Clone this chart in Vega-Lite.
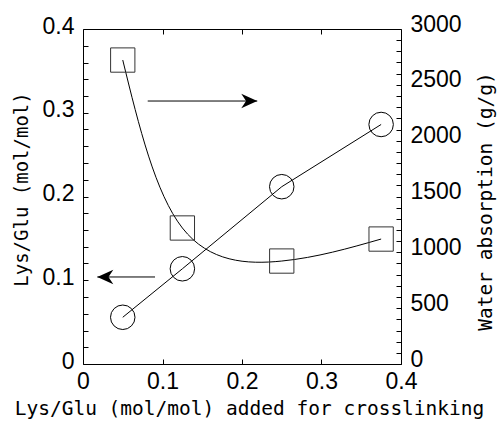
{
  "$schema": "https://vega.github.io/schema/vega-lite/v6.json",
  "width": 318,
  "height": 335,
  "autosize": {"type": "none"},
  "padding": {"left": 83, "top": 29, "right": 97, "bottom": 58},
  "background": "white",
  "config": {
    "view": {"stroke": null},
    "axis": {
      "domainColor": "#000",
      "domainWidth": 1,
      "tickColor": "#000",
      "tickWidth": 1,
      "tickSize": -5,
      "grid": false,
      "labelFont": "Liberation Sans",
      "labelFontSize": 23,
      "labelColor": "#000",
      "titleFont": "DejaVu Sans Mono",
      "titleFontSize": 19.5,
      "titleFontWeight": "normal",
      "titleColor": "#000"
    }
  },
  "datasets": {
    "lysglu": [
      {"added": 0.05, "lys": 0.0558},
      {"added": 0.125, "lys": 0.1137},
      {"added": 0.25, "lys": 0.2117},
      {"added": 0.375, "lys": 0.286}
    ],
    "water": [
      {"added": 0.05, "water": 2722},
      {"added": 0.125, "water": 1218},
      {"added": 0.25, "water": 922},
      {"added": 0.375, "water": 1119}
    ],
    "arrows": [
      {"dir": "right", "lys": 0.314, "from": 0.0814, "to": 0.2192},
      {"dir": "left", "lys": 0.1039, "from": 0.0906, "to": 0.018}
    ]
  },
  "layer": [
    {
      "encoding": {
        "x": {
          "field": "added",
          "type": "quantitative",
          "scale": {"domain": [0, 0.4], "nice": false, "zero": false},
          "axis": {
            "orient": "bottom",
            "title": "Lys/Glu (mol/mol) added for crosslinking",
            "values": [0, 0.1, 0.2, 0.3, 0.4],
            "format": "~g",
            "labelPadding": 11,
            "labelFlush": false,
            "labelOverlap": false,
            "titleBaseline": "alphabetic",
            "titleAlign": "center",
            "titleX": 166,
            "titleY": 50
          }
        },
        "y": {
          "field": "lys",
          "type": "quantitative",
          "scale": {"domain": [0, 0.4], "nice": false, "zero": false},
          "axis": {
            "orient": "left",
            "title": "Lys/Glu (mol/mol)",
            "values": [0, 0.02, 0.04, 0.06, 0.08, 0.1, 0.12, 0.14, 0.16, 0.18, 0.2, 0.22, 0.24, 0.26, 0.28, 0.3, 0.32, 0.34, 0.36, 0.38, 0.4],
            "format": "~g",
            "labelExpr": "round(datum.value * 50) % 5 == 0 ? datum.label : ''",
            "labelPadding": 14,
            "labelOffset": -3,
            "labelFlush": false,
            "labelOverlap": false,
            "titleAngle": -90,
            "titleFontSize": 19,
            "titleBaseline": "alphabetic",
            "titleAlign": "center",
            "titleX": -56,
            "titleY": 160
          }
        }
      },
      "layer": [
        {
          "data": {"name": "lysglu"},
          "mark": {"type": "line", "color": "#000", "strokeWidth": 1}
        },
        {
          "data": {"name": "lysglu"},
          "mark": {"type": "point", "shape": "circle", "filled": false, "stroke": "#000", "strokeWidth": 1, "size": 600, "opacity": 1}
        },
        {
          "data": {"name": "arrows"},
          "mark": {"type": "rule", "color": "#000", "strokeWidth": 1},
          "encoding": {
            "x": {"field": "from", "type": "quantitative", "title": "Lys/Glu (mol/mol) added for crosslinking"},
            "x2": {"field": "to"}
          }
        },
        {
          "data": {"name": "arrows"},
          "mark": {"type": "point", "filled": true, "color": "#000", "size": 256, "opacity": 1, "strokeWidth": 0},
          "encoding": {
            "x": {"field": "to", "type": "quantitative", "title": "Lys/Glu (mol/mol) added for crosslinking"},
            "shape": {
              "field": "dir",
              "type": "nominal",
              "legend": null,
              "scale": {
                "domain": ["right", "left"],
                "range": ["M0,0L-2,-0.9L-1.4,0L-2,0.9Z", "M0,0L2,-0.9L1.4,0L2,0.9Z"]
              }
            }
          }
        }
      ]
    },
    {
      "data": {"name": "water"},
      "encoding": {
        "x": {
          "field": "added",
          "type": "quantitative",
          "scale": {"domain": [0, 0.4], "nice": false, "zero": false},
          "axis": {
            "orient": "top",
            "title": null,
            "values": [0.1, 0.2, 0.3],
            "labels": false
          }
        },
        "y": {
          "field": "water",
          "type": "quantitative",
          "scale": {"domain": [0, 3000], "nice": false, "zero": false},
          "axis": {
            "orient": "right",
            "title": "Water absorption (g/g)",
            "format": "d",
            "values": [0, 100, 200, 300, 400, 500, 600, 700, 800, 900, 1000, 1100, 1200, 1300, 1400, 1500, 1600, 1700, 1800, 1900, 2000, 2100, 2200, 2300, 2400, 2500, 2600, 2700, 2800, 2900, 3000],
            "labelExpr": "datum.value % 500 == 0 ? datum.label : ''",
            "labelPadding": 14,
            "labelOffset": -5,
            "labelFlush": false,
            "labelOverlap": false,
            "titleAngle": -90,
            "titleBaseline": "alphabetic",
            "titleAlign": "center",
            "titleX": 90,
            "titleY": 172
          }
        }
      },
      "layer": [
        {
          "mark": {"type": "line", "color": "#000", "strokeWidth": 1, "interpolate": "natural"}
        },
        {
          "mark": {"type": "point", "shape": "square", "filled": false, "stroke": "#333", "strokeWidth": 1, "size": 590, "opacity": 1}
        }
      ]
    }
  ],
  "resolve": {
    "scale": {"y": "independent"},
    "axis": {"x": "independent"}
  }
}
